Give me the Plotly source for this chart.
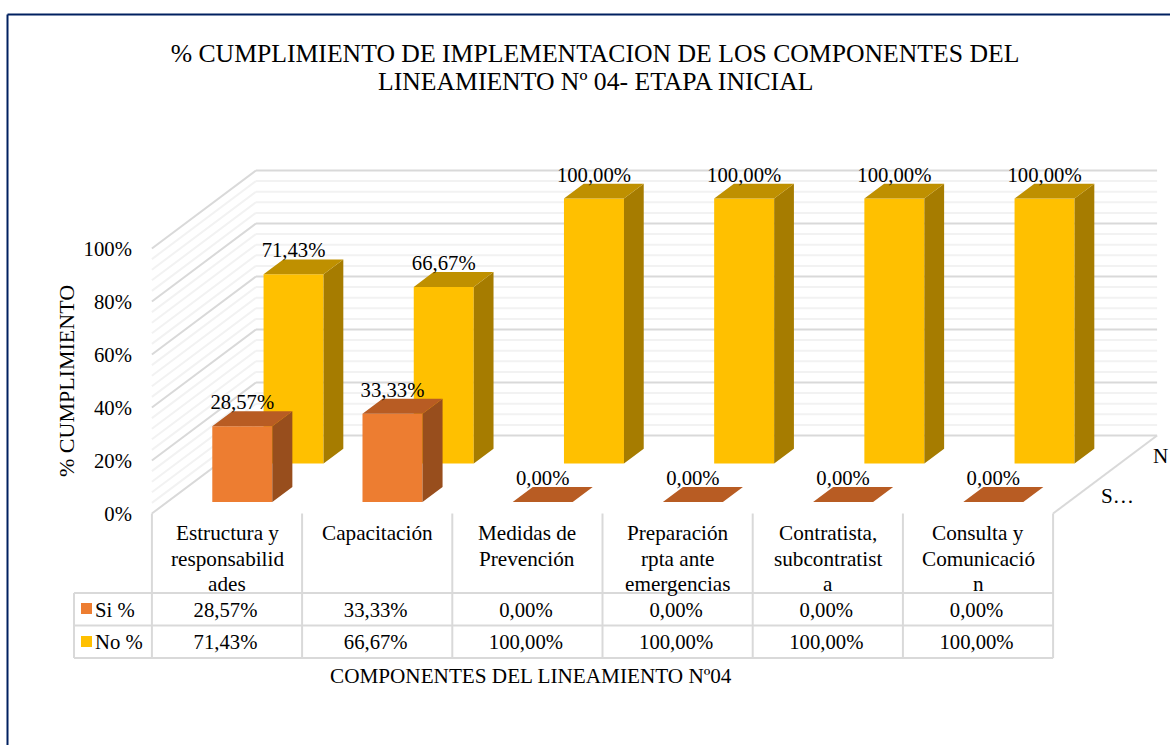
import plotly.graph_objects as go

categories = ["Estructura y<br>responsabilid<br>ades", "Capacitación", "Medidas de<br>Prevención",
              "Preparación<br>rpta ante<br>emergencias", "Contratista,<br>subcontratist<br>a",
              "Consulta y<br>Comunicació<br>n"]
si_values = [28.57, 33.33, 0, 0, 0, 0]
no_values = [71.43, 66.67, 100, 100, 100, 100]
series_names = ["Si %", "No %"]
y_ticks = [0, 20, 40, 60, 80, 100]
y_tick_labels = ["0%", "20%", "40%", "60%", "80%", "100%"]
minor_ticks = list(range(0, 101, 4))

title_lines = ["% CUMPLIMIENTO DE IMPLEMENTACION DE LOS COMPONENTES DEL", "LINEAMIENTO Nº 04- ETAPA INICIAL"]
FONT = "Liberation Serif"
W, H = 1170, 745
SX, SY = 150.2, 2.65       # pixels per category, pixels per percent
X0, Y0 = 227.0, 513.5      # pixel of category 0 / 0 %
DX, DY = 104 / SX, 78 / SY # floor depth in axis units
BAR_W = 60 / SX
BLACK = "#000000"
tfont = dict(family=FONT, size=21.2, color=BLACK)
nfont = dict(family=FONT, size=20.7, color=BLACK)


def ax_x(p):
    return (p - X0) / SX


def ax_y(p):
    return (Y0 - p) / SY


def fmt(v):
    return f"{v:.2f}".replace(".", ",") + "%"


fig = go.Figure()

ORANGE = ("#ED7D31", "#B85C23", "#984E1D")
YELLOW = ("#FFC000", "#BF9000", "#A67C00")


def add_series(values, d0, d1, colors):
    xs = [i + DX * d0 for i in range(len(values))]
    fig.add_trace(go.Bar(x=xs, y=values, base=[DY * d0] * len(values), width=BAR_W,
                         marker=dict(color=colors[0], line=dict(width=0)), hoverinfo="skip"))
    tx, ty, sx, sy = [], [], [], []
    ox, oy = DX * (d1 - d0), DY * (d1 - d0)
    for x, v in zip(xs, values):
        l, r = x - BAR_W / 2, x + BAR_W / 2
        b = DY * d0
        tx += [l, r, r + ox, l + ox, l, None]
        ty += [v + b, v + b, v + b + oy, v + b + oy, v + b, None]
        sx += [r, r + ox, r + ox, r, r, None]
        sy += [b, b + oy, v + b + oy, v + b, b, None]
    for px_, py_, c in ((sx, sy, colors[2]), (tx, ty, colors[1])):
        fig.add_trace(go.Scatter(x=px_, y=py_, mode="lines", fill="toself", fillcolor=c,
                                 line=dict(width=0, color=c), hoverinfo="skip"))
    fig.add_trace(go.Scatter(x=xs, y=[v + DY * d0 + 22 / SY for v in values],
                             mode="text", text=[fmt(v) for v in values],
                             textfont=nfont, hoverinfo="skip"))


add_series(no_values, 0.64, 0.83, YELLOW)
add_series(si_values, 0.147, 0.34, ORANGE)

shapes = []
LEFT, RIGHT = -0.5, 5.5


def line(x0, y0, x1, y1, color, width=2):
    shapes.append(dict(type="line", x0=x0, y0=y0, x1=x1, y1=y1, xref="x", yref="y", layer="below",
                       line=dict(color=color, width=width)))


for t in minor_ticks:
    if t not in y_ticks:
        line(LEFT, t, LEFT + DX, t + DY, "#F2F2F2")
        line(LEFT + DX, t + DY, RIGHT + DX, t + DY, "#F2F2F2")
for t in y_ticks:
    line(LEFT, t, LEFT + DX, t + DY, "#D9D9D9")
    line(LEFT + DX, t + DY, RIGHT + DX, t + DY, "#D9D9D9")
line(RIGHT, 0, RIGHT + DX, DY, "#D9D9D9")

# data table
row_tops = [ax_y(593), ax_y(625.5), ax_y(658)]
key_left = ax_x(74)
for i in range(len(categories) + 1):
    line(LEFT + i, 0, LEFT + i, row_tops[2], "#D9D9D9")
line(key_left, row_tops[0], key_left, row_tops[2], "#D9D9D9")
for r in row_tops:
    line(key_left, r, RIGHT, r, "#D9D9D9")

# frame of the chart area
shapes.append(dict(type="line", x0=7.5 / W, x1=7.5 / W, y0=1 - 14.5 / H, y1=0, xref="paper", yref="paper",
                   line=dict(color="#002060", width=2)))
shapes.append(dict(type="line", x0=7.5 / W, x1=1, y0=1 - 14.5 / H, y1=1 - 14.5 / H, xref="paper", yref="paper",
                   line=dict(color="#002060", width=2)))

# legend keys in the table
key_mid = [ax_y(608.5), ax_y(641.5)]
text_mid = [ax_y(611.5), ax_y(643.5)]
fig.add_trace(go.Scatter(x=[ax_x(86.5)] * 2, y=key_mid, mode="markers",
                         marker=dict(symbol="square", size=11, color=[ORANGE[0], YELLOW[0]]), hoverinfo="skip"))
fig.add_trace(go.Scatter(x=[ax_x(95)] * 2, y=text_mid, mode="text", text=series_names, textposition="middle right",
                         textfont=nfont, hoverinfo="skip"))
for vals, y in ((si_values, text_mid[0]), (no_values, text_mid[1])):
    fig.add_trace(go.Scatter(x=[i - 1.5 / SX for i in range(len(vals))], y=[y] * len(vals), mode="text",
                             text=[fmt(v) for v in vals], textfont=nfont, hoverinfo="skip"))

ann = []
for i, c in enumerate(categories):
    for k, part in enumerate(c.split("<br>")):
        ann.append(dict(x=i, y=ax_y(533 + 25.5 * k), text=part, xref="x", yref="y", showarrow=False, font=tfont))
ann.append(dict(x=ax_x(531), y=ax_y(676), text="COMPONENTES DEL LINEAMIENTO Nº04", xref="x", yref="y", showarrow=False,
                font=tfont))
ann.append(dict(x=ax_x(66), y=ax_y(381), text="% CUMPLIMIENTO", textangle=-90, xref="x", yref="y", showarrow=False,
                font=dict(family=FONT, size=22, color=BLACK)))
ann.append(dict(x=ax_x(1160), y=ax_y(456), text="N", xref="x", yref="y", showarrow=False, font=tfont))
ann.append(dict(x=ax_x(1117), y=ax_y(496), text="S…", xref="x", yref="y", showarrow=False, font=tfont))
ann.append(dict(x=ax_x(595), y=ax_y(81), text=title_lines[1], xref="x", yref="y", showarrow=False,
                font=dict(family=FONT, size=25.7, color=BLACK)))

fig.update_layout(
    width=W, height=H, autosize=False, margin=dict(l=0, r=0, t=0, b=0),
    paper_bgcolor="#FFFFFF", plot_bgcolor="#FFFFFF", showlegend=False, barmode="overlay",
    title=dict(text=title_lines[0], x=595 / W, xanchor="center", y=1 - 53 / H, yanchor="middle",
               font=dict(family=FONT, size=25.7, color=BLACK)),
    xaxis=dict(range=[ax_x(0), ax_x(W)], visible=False, fixedrange=True),
    yaxis=dict(range=[ax_y(H), ax_y(0)], tickmode="array", tickvals=y_ticks, ticktext=y_tick_labels, showgrid=False,
               zeroline=False, showline=False, anchor="free", position=146 / W, side="left", ticks="outside",
               ticklen=10, tickcolor="rgba(0,0,0,0)", tickfont=nfont, fixedrange=True),
    shapes=shapes, annotations=ann,
)
fig.write_html("out.html", post_script="document.body.style.margin='0';", config={"displayModeBar": False})
